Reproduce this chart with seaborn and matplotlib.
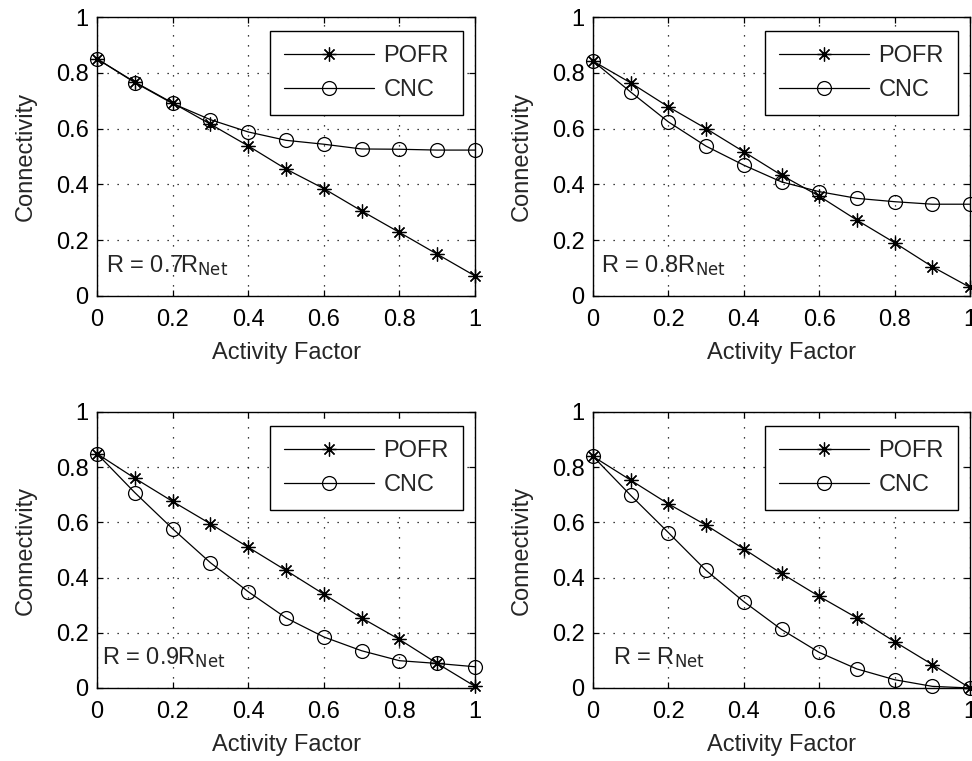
import numpy as np
import pandas as pd
import matplotlib
matplotlib.use("Agg")
import matplotlib.pyplot as plt
import seaborn as sns
from matplotlib.ticker import FuncFormatter, MultipleLocator

# ---- data ----
activity = [0.0, 0.1, 0.2, 0.3, 0.4, 0.5, 0.6, 0.7, 0.8, 0.9, 1.0]

pofr_07 = [0.85, 0.767, 0.692, 0.616, 0.538, 0.455, 0.385, 0.305, 0.228, 0.150, 0.072]
cnc_07 = [0.85, 0.765, 0.690, 0.632, 0.588, 0.558, 0.544, 0.527, 0.526, 0.523, 0.523]

pofr_08 = [0.842, 0.764, 0.678, 0.600, 0.517, 0.433, 0.358, 0.272, 0.191, 0.105, 0.031]
cnc_08 = [0.842, 0.731, 0.624, 0.537, 0.469, 0.409, 0.374, 0.350, 0.338, 0.329, 0.329]

pofr_09 = [0.849, 0.760, 0.676, 0.595, 0.510, 0.426, 0.340, 0.254, 0.176, 0.089, 0.006]
cnc_09 = [0.849, 0.708, 0.577, 0.454, 0.349, 0.254, 0.185, 0.135, 0.099, 0.089, 0.077]

pofr_10 = [0.839, 0.753, 0.667, 0.590, 0.504, 0.415, 0.332, 0.254, 0.168, 0.085, 0.0]
cnc_10 = [0.839, 0.698, 0.563, 0.426, 0.313, 0.212, 0.129, 0.069, 0.030, 0.006, 0.0]

panel_labels = [r"R = 0.7R$_{\rm Net}$", r"R = 0.8R$_{\rm Net}$",
                r"R = 0.9R$_{\rm Net}$", r"R = R$_{\rm Net}$"]
series_names = ["POFR", "CNC"]
x_label = "Activity Factor"
y_label = "Connectivity"

# ---- style ----
sns.set_style("ticks")
plt.rcParams["font.family"] = ["Liberation Sans", "DejaVu Sans"]
plt.rcParams["mathtext.default"] = "regular"
plt.rcParams["font.size"] = 17

FS = 17

fig = plt.figure(figsize=(9.72, 7.61), dpi=100)
positions = [
    [97 / 972, 1 - 296 / 761, 378 / 972, 279 / 761],
    [593 / 972, 1 - 296 / 761, 377 / 972, 279 / 761],
    [97 / 972, 1 - 688 / 761, 378 / 972, 276 / 761],
    [593 / 972, 1 - 688 / 761, 377 / 972, 276 / 761],
]
data_sets = [(pofr_07, cnc_07), (pofr_08, cnc_08), (pofr_09, cnc_09), (pofr_10, cnc_10)]
label_pos = [(0.025, 0.085), (0.021, 0.085), (0.013, 0.085), (0.052, 0.085)]

fmt = FuncFormatter(lambda v, p: "%g" % round(v, 2))

for pos, (pofr, cnc), lab, lp in zip(positions, data_sets, panel_labels, label_pos):
    ax = fig.add_axes(pos)
    df = pd.DataFrame({"x": activity, "POFR": pofr, "CNC": cnc})
    sns.lineplot(data=df, x="x", y="POFR", ax=ax, color="black", linewidth=0.9,
                 marker=(8, 2, 0), markersize=10, markeredgewidth=0.9,
                 markeredgecolor="black", label=series_names[0], clip_on=False)
    sns.lineplot(data=df, x="x", y="CNC", ax=ax, color="black", linewidth=0.9,
                 marker="o", markersize=10, markerfacecolor="none",
                 markeredgewidth=0.9, markeredgecolor="black",
                 label=series_names[1], clip_on=False)
    ax.set_xlim(0, 1)
    ax.set_ylim(0, 1)
    ax.xaxis.set_major_locator(MultipleLocator(0.2))
    ax.yaxis.set_major_locator(MultipleLocator(0.2))
    ax.xaxis.set_major_formatter(fmt)
    ax.yaxis.set_major_formatter(fmt)
    ax.grid(True, color="black", linestyle=(0, (1, 7)), linewidth=0.9)
    ax.tick_params(direction="in", top=True, right=True, length=4, width=0.9,
                   labelsize=FS, colors="black")
    ax.tick_params(axis="x", pad=9)
    ax.tick_params(axis="y", pad=6)
    for sp in ax.spines.values():
        sp.set_visible(True)
        sp.set_color("black")
        sp.set_linewidth(1.0)
    ax.set_xlabel(x_label, fontsize=FS, labelpad=8)
    ax.set_ylabel(y_label, fontsize=FS, labelpad=14)
    ax.text(lp[0], lp[1], lab, fontsize=FS, va="baseline", ha="left")
    leg = ax.legend(loc="upper right", bbox_to_anchor=(0.968, 0.95),
                    borderaxespad=0, fancybox=False, framealpha=1,
                    edgecolor="black", fontsize=FS, handlelength=3.8,
                    handletextpad=0.4, borderpad=0.6, labelspacing=0.5)
    leg.get_frame().set_linewidth(1.0)

fig.savefig("out.png", dpi=100)
